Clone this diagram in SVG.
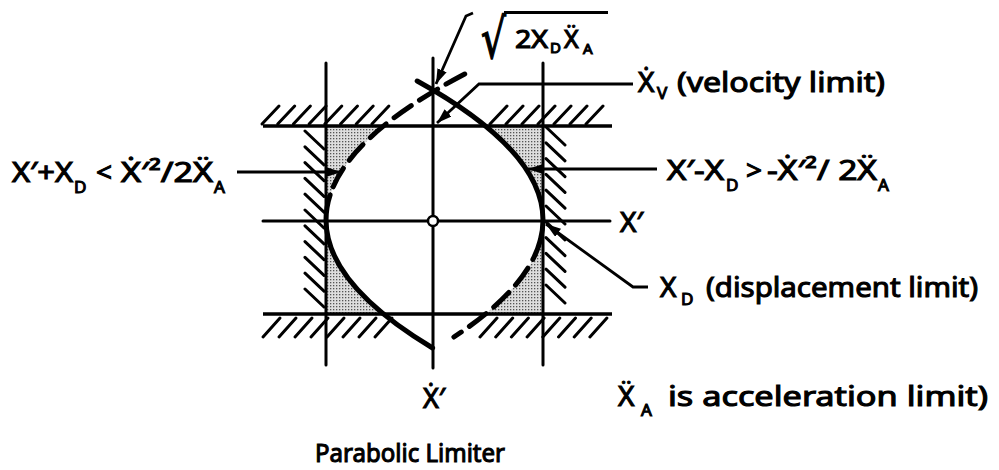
<svg xmlns="http://www.w3.org/2000/svg" width="999" height="470" viewBox="0 0 999 470">
<style>
.ax{stroke:#000;stroke-width:3;fill:none;stroke-linecap:round}
.wall{stroke:#000;stroke-width:3.5;fill:none}
.hatch{stroke:#000;stroke-width:3;fill:none;stroke-linecap:round}
.cs{stroke:#000;stroke-width:5;fill:none;stroke-linecap:round}
.cd{stroke:#000;stroke-width:5;fill:none;stroke-dasharray:21 10;stroke-linecap:round}
.arr{stroke:#000;stroke-width:2.8;fill:none;marker-end:url(#ah)}
.shade{fill:url(#stip);stroke:none}
text{font-family:"Noto Sans","DejaVu Sans",sans-serif;font-weight:normal;font-size:28px;fill:#000;stroke:#000;stroke-width:1.1px}
.sub{font-size:17px}
.rad{font-family:"DejaVu Sans",sans-serif;font-size:55px;stroke-width:1.4px}
</style>
<defs>
<pattern id="stip" width="3" height="3" patternUnits="userSpaceOnUse">
<rect width="3" height="3" fill="#dedede"/><rect width="1.3" height="1.3" fill="#555"/>
</pattern>
<marker id="ah" markerWidth="16" markerHeight="10" refX="15" refY="5" orient="auto" markerUnits="userSpaceOnUse">
<path d="M0,0 L15,5 L0,10 Z" fill="#000"/>
</marker>
</defs>
<rect width="999" height="470" fill="#fff"/>

<g id="shading">
<path class="shade" d="M326,126 L383.5,126 Q326,173 326,220 Z"/>
<path class="shade" d="M543,126 L485.5,126 Q543,173 543,220 Z"/>
<path class="shade" d="M326,314 L383.5,314 Q326,267 326,220 Z"/>
<path class="shade" d="M543,314 L485.5,314 Q543,267 543,220 Z"/>
</g>

<g id="walls">
<path class="hatch" d="M262,124l17,-18 M277.7,124l17,-18 M293.4,124l17,-18 M309.1,124l17,-18 M324.8,124l17,-18 M340.5,124l17,-18 M356.2,124l17,-18 M371.9,124l17,-18"/>
<path class="hatch" d="M490,124l17,-18 M506,124l17,-18 M522,124l17,-18 M538,124l17,-18 M554,124l17,-18 M570,124l17,-18 M586,124l17,-18"/>
<path class="hatch" d="M263,337l17,-19 M279,337l17,-19 M295,337l17,-19 M311,337l17,-19 M327,337l17,-19 M343,337l17,-19 M359,337l17,-19 M375,337l17,-19"/>
<path class="hatch" d="M480,337l17,-19 M495.7,337l17,-19 M511.4,337l17,-19 M527.1,337l17,-19 M542.8,337l17,-19 M558.5,337l17,-19 M574.2,337l17,-19 M589.9,337l17,-19"/>
<path class="hatch" d="M305,131l19,18 M305,146.8l19,18 M305,162.6l19,18 M305,178.4l19,18 M305,194.2l19,18 M305,210l19,18 M305,225.8l19,18 M305,241.6l19,18 M305,257.4l19,18 M305,273.2l19,18 M305,289l19,18"/>
<path class="hatch" d="M546,127l19,18 M546,142.8l19,18 M546,158.6l19,18 M546,174.4l19,18 M546,190.2l19,18 M546,206l19,18 M546,221.8l19,18 M546,237.6l19,18 M546,253.4l19,18 M546,269.2l19,18 M546,285l19,18"/>
<line class="wall" x1="263" y1="126" x2="612" y2="126"/>
<line class="wall" x1="263" y1="314" x2="612" y2="314"/>
</g>

<g id="axes">
<line class="ax" x1="326" y1="63" x2="326" y2="365"/>
<line class="ax" x1="543" y1="63" x2="543" y2="365"/>
<line class="ax" x1="433" y1="58" x2="433" y2="368"/>
<line class="ax" x1="263" y1="221" x2="610" y2="221"/>
<circle id="origin" cx="433" cy="221" r="5" fill="#fff" stroke="#000" stroke-width="2.5"/>
</g>

<g id="curves">
<path class="cd" d="M464.7,74 Q349.8,134.5 330.1,195"/>
<path class="cs" d="M330.1,195 Q305.2,271.5 432.6,348"/>
<path class="cs" d="M417.2,81 Q561.1,160.5 540.4,240"/>
<path class="cd" d="M540.4,240 Q527.8,288.5 453.9,337"/>
</g>

<g id="connectors">
<polyline class="arr" points="473,13 466,16 436,84"/>
<polyline class="arr" points="633,84 479,84 437,123"/>
<polyline class="arr" points="237,172 341,172"/>
<polyline class="arr" points="657,169 528,169"/>
<polyline class="arr" points="648,287 633,287 546,224"/>
</g>

<g id="label-sqrt">
<text class="rad" x="481" y="58" textLength="25" lengthAdjust="spacingAndGlyphs">√</text>
<line x1="504" y1="12.5" x2="608" y2="12.5" stroke="#000" stroke-width="3.2"/>
<text y="48" style="font-size:25px"><tspan x="515" textLength="33" lengthAdjust="spacingAndGlyphs">2X</tspan><tspan x="550" y="53" style="font-size:15px">D</tspan><tspan x="564" y="48">Ẍ</tspan><tspan x="583" y="54" style="font-size:15px">A</tspan></text>
</g>

<g id="label-velocity">
<text y="92"><tspan x="638">Ẋ</tspan><tspan class="sub" x="657" y="99">V</tspan><tspan x="677" y="92" textLength="208" lengthAdjust="spacingAndGlyphs">(velocity limit)</tspan></text>
</g>

<g id="label-left">
<text y="182"><tspan x="12" textLength="61" lengthAdjust="spacingAndGlyphs">X′+X</tspan><tspan class="sub" x="74" y="193">D</tspan><tspan x="96" y="182">&lt;</tspan><tspan x="121" y="182" textLength="92" lengthAdjust="spacingAndGlyphs">Ẋ′²/2Ẍ</tspan><tspan class="sub" x="214" y="193">A</tspan></text>
</g>

<g id="label-right">
<text y="180"><tspan x="667" textLength="57" lengthAdjust="spacingAndGlyphs">X′-X</tspan><tspan class="sub" x="726" y="191">D</tspan><tspan x="746" y="180">&gt;</tspan><tspan x="767" y="180" textLength="110" lengthAdjust="spacingAndGlyphs">-Ẋ′²/ 2Ẍ</tspan><tspan class="sub" x="878" y="191">A</tspan></text>
</g>

<g id="label-xprime">
<text x="620" y="232">X′</text>
</g>

<g id="label-displacement">
<text y="297"><tspan x="660">X</tspan><tspan class="sub" x="681" y="305">D</tspan><tspan x="706" y="297" textLength="272" lengthAdjust="spacingAndGlyphs">(displacement limit)</tspan></text>
</g>

<g id="label-xdot">
<text x="423" y="408" style="font-size:27px">Ẋ′</text>
</g>

<g id="label-acceleration">
<text y="406"><tspan x="618">Ẍ</tspan><tspan class="sub" x="641" y="416">A</tspan><tspan x="668" y="406" textLength="320" lengthAdjust="spacingAndGlyphs">is acceleration limit)</tspan></text>
</g>

<g id="title">
<text x="315" y="462" style="font-size:26px" textLength="190" lengthAdjust="spacingAndGlyphs">Parabolic Limiter</text>
</g>
</svg>
